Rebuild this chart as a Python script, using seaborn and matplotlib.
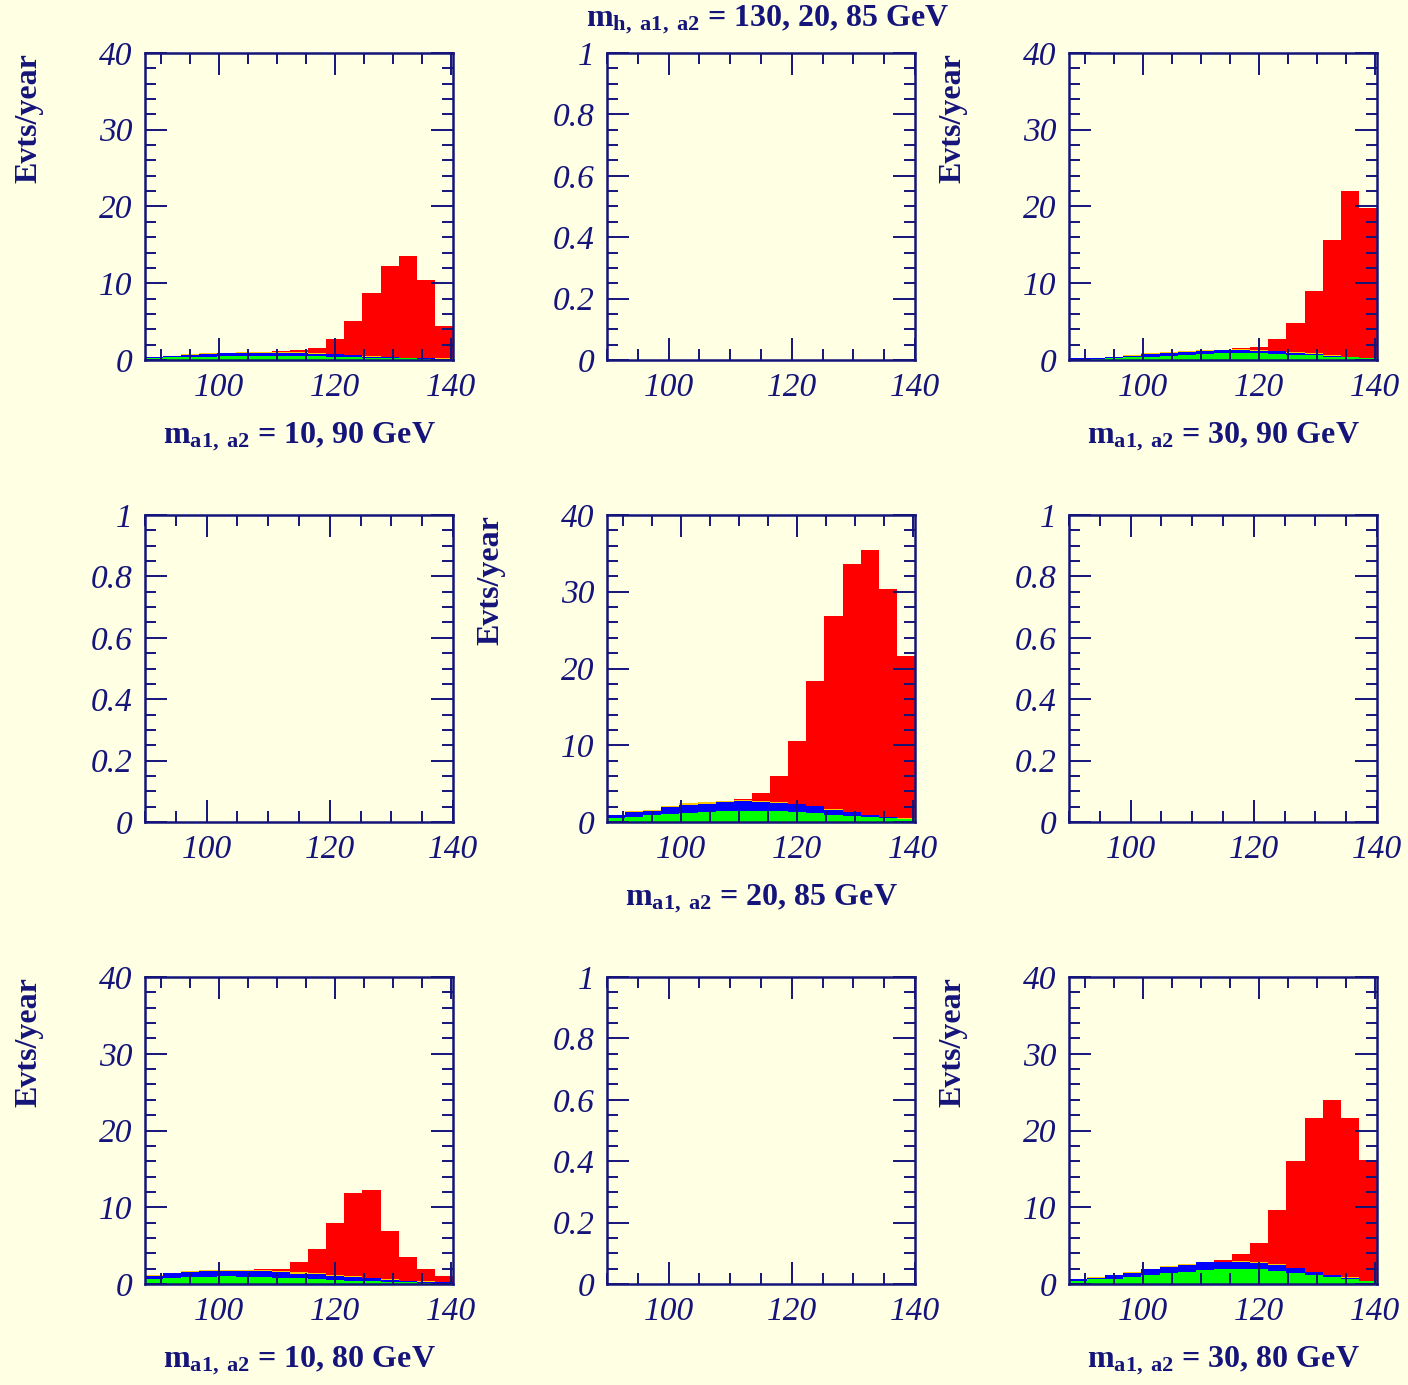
import numpy as np
import pandas as pd
import matplotlib
matplotlib.use("Agg")
import matplotlib.pyplot as plt
from matplotlib.ticker import MultipleLocator
import seaborn as sns

# ---------------- data ----------------
bin_lo, bin_hi, n_bins = 87.3, 140.3, 17

# m_a1,a2 = 10, 90 GeV
green_10_90 = [0.30, 0.35, 0.40, 0.45, 0.50, 0.50, 0.55, 0.55, 0.55, 0.50, 0.45, 0.40, 0.30, 0.25, 0.20, 0.15, 0.12]
blue_10_90 = [0.08, 0.13, 0.25, 0.30, 0.35, 0.38, 0.38, 0.38, 0.35, 0.30, 0.28, 0.20, 0.15, 0.10, 0.07, 0.07, 0.05]
yellow_10_90 = [0.05, 0.08, 0.09, 0.12, 0.11, 0.12, 0.12, 0.12, 0.10, 0.10, 0.07, 0.05, 0.05, 0.05, 0.03, 0.03, 0.03]
red_10_90 = [0.0, 0.0, 0.0, 0.0, 0.0, 0.0, 0.04, 0.08, 0.26, 0.70, 1.90, 4.45, 8.20, 11.9, 13.2, 10.15, 4.20]

# m_a1,a2 = 30, 90 GeV
green_30_90 = [0.10, 0.13, 0.20, 0.35, 0.45, 0.55, 0.65, 0.75, 0.85, 0.85, 0.85, 0.75, 0.70, 0.60, 0.45, 0.35, 0.20]
blue_30_90 = [0.10, 0.14, 0.18, 0.22, 0.35, 0.38, 0.40, 0.43, 0.42, 0.47, 0.38, 0.39, 0.25, 0.20, 0.10, 0.06, 0.07]
yellow_30_90 = [0.02, 0.03, 0.05, 0.05, 0.07, 0.07, 0.08, 0.08, 0.08, 0.08, 0.07, 0.06, 0.05, 0.05, 0.05, 0.04, 0.03]
red_30_90 = [0.0, 0.0, 0.0, 0.0, 0.0, 0.0, 0.0, 0.0, 0.0, 0.12, 0.44, 1.50, 3.80, 8.11, 15.0, 21.55, 19.5]

# m_a1,a2 = 20, 85 GeV
green_20_85 = [0.52, 0.70, 0.91, 1.09, 1.22, 1.35, 1.48, 1.48, 1.48, 1.43, 1.30, 1.13, 0.96, 0.83, 0.65, 0.52, 0.35]
blue_20_85 = [0.40, 0.59, 0.57, 0.83, 1.06, 1.06, 1.15, 1.25, 1.16, 1.03, 1.02, 0.90, 0.63, 0.42, 0.27, 0.15, 0.10]
yellow_20_85 = [0.04, 0.10, 0.12, 0.12, 0.15, 0.15, 0.15, 0.12, 0.10, 0.10, 0.08, 0.07, 0.06, 0.05, 0.04, 0.03, 0.03]
red_20_85 = [0.0, 0.0, 0.0, 0.0, 0.0, 0.0, 0.0, 0.11, 1.00, 3.44, 8.10, 16.25, 25.25, 32.3, 34.44, 29.7, 21.12]

# m_a1,a2 = 10, 80 GeV
green_10_80 = [0.61, 0.74, 0.87, 0.96, 1.00, 0.96, 0.87, 0.83, 0.74, 0.65, 0.52, 0.43, 0.35, 0.26, 0.22, 0.17, 0.13]
blue_10_80 = [0.47, 0.64, 0.63, 0.72, 0.71, 0.77, 0.83, 0.77, 0.61, 0.63, 0.58, 0.47, 0.37, 0.28, 0.19, 0.15, 0.14]
yellow_10_80 = [0.05, 0.10, 0.20, 0.15, 0.12, 0.10, 0.10, 0.10, 0.15, 0.12, 0.10, 0.10, 0.08, 0.06, 0.04, 0.03, 0.03]
red_10_80 = [0.0, 0.0, 0.0, 0.0, 0.0, 0.0, 0.11, 0.30, 1.33, 3.20, 6.70, 10.8, 11.4, 6.30, 3.05, 1.65, 0.74]

# m_a1,a2 = 30, 80 GeV
green_30_80 = [0.35, 0.61, 0.65, 0.96, 1.13, 1.39, 1.60, 1.83, 2.00, 2.00, 1.96, 1.74, 1.48, 1.17, 0.87, 0.61, 0.35]
blue_30_80 = [0.24, 0.23, 0.48, 0.51, 0.77, 0.84, 0.92, 0.99, 0.84, 0.88, 0.83, 0.79, 0.56, 0.38, 0.26, 0.23, 0.06]
yellow_30_80 = [0.02, 0.03, 0.04, 0.05, 0.06, 0.07, 0.08, 0.08, 0.06, 0.08, 0.08, 0.07, 0.06, 0.05, 0.04, 0.03, 0.02]
red_30_80 = [0.0, 0.0, 0.0, 0.0, 0.0, 0.0, 0.0, 0.0, 0.24, 0.94, 2.53, 7.00, 13.9, 20.0, 22.83, 20.73, 15.77]

panel_labels = ["10, 90", "30, 90", "20, 85", "10, 80", "30, 80"]
title_text = "130, 20, 85"
ylabel_text = "Evts/year"
xticks_major = [100, 120, 140]
yticks_filled = [0, 10, 20, 30, 40]
yticks_empty = [0, 0.2, 0.4, 0.6, 0.8, 1]
yticklabels_empty = ["0", "0.2", "0.4", "0.6", "0.8", "1"]

# ---------------- style ----------------
sns.set_theme(style="ticks")
plt.rcParams["font.family"] = ["Liberation Serif", "DejaVu Serif"]
plt.rcParams["mathtext.fontset"] = "custom"
plt.rcParams["mathtext.rm"] = "Liberation Serif"
plt.rcParams["mathtext.bf"] = "Liberation Serif:bold"
plt.rcParams["mathtext.it"] = "Liberation Serif:italic"

NAVY = "#14147a"
BG = "#FFFFE4"
COLORS = {"red": "#FF0000", "yellow": "#FFC800", "blue": "#0000FF", "green": "#00FF00"}
FS_TICK = 24
FS_LAB = 23

fig = plt.figure(figsize=(14.08, 13.85), dpi=100, facecolor=BG)
W, H = 1408.0, 1385.0
col_left = [145, 607, 1069]
row_top = [53, 515, 977]
AW, AH = 308, 307

edges = list(np.linspace(bin_lo, bin_hi, n_bins + 1))
centers = 0.5 * (np.array(edges[:-1]) + np.array(edges[1:]))

filled = {
    (0, 0): (green_10_90, blue_10_90, yellow_10_90, red_10_90, panel_labels[0]),
    (0, 2): (green_30_90, blue_30_90, yellow_30_90, red_30_90, panel_labels[1]),
    (1, 1): (green_20_85, blue_20_85, yellow_20_85, red_20_85, panel_labels[2]),
    (2, 0): (green_10_80, blue_10_80, yellow_10_80, red_10_80, panel_labels[3]),
    (2, 2): (green_30_80, blue_30_80, yellow_30_80, red_30_80, panel_labels[4]),
}


def style_axes(ax):
    ax.set_facecolor(BG)
    for s in ax.spines.values():
        s.set_color(NAVY)
        s.set_linewidth(1.8)
        s.set_visible(True)
        s.set_zorder(5)
    ax.tick_params(which="both", direction="in", top=True, right=True,
                   color=NAVY, labelcolor=NAVY, width=1.4, labelsize=FS_TICK, pad=9)
    ax.tick_params(which="major", length=16)
    ax.tick_params(which="minor", length=8)
    ax.set_xlabel("")
    ax.set_ylabel("")
    ax.set_axisbelow(False)


for r in range(3):
    for c in range(3):
        left = col_left[c] / W
        bottom = 1 - (row_top[r] + AH) / H
        ax = fig.add_axes([left, bottom, AW / W, AH / H])
        if (r, c) in filled:
            g, b, y, rd, lab = filled[(r, c)]
            df = pd.DataFrame({
                "x": np.concatenate([centers] * 4),
                "w": np.concatenate([rd, y, b, g]),
                "comp": ["red"] * n_bins + ["yellow"] * n_bins + ["blue"] * n_bins + ["green"] * n_bins,
            })
            sns.histplot(data=df, x="x", weights="w", hue="comp",
                         hue_order=["red", "yellow", "blue", "green"],
                         palette=COLORS, multiple="stack", bins=edges,
                         element="bars", alpha=1, linewidth=0, legend=False, ax=ax)
            ax.set_xlim(bin_lo, bin_hi)
            ax.set_ylim(0, 40)
            ax.set_yticks(yticks_filled, labels=[str(v) for v in yticks_filled], fontstyle="italic")
            ax.yaxis.set_minor_locator(MultipleLocator(2))
            style_axes(ax)
            ax.set_ylabel(ylabel_text, color=NAVY, fontsize=FS_LAB, fontweight="bold", loc="top")
            ax.yaxis.set_label_coords(-102 / AW, 1.0)
            ax.text(0.5, -77 / AH,
                    r"$\mathbf{m}_{\mathbf{a1,\ a2}}$" + " = " + lab + " GeV",
                    transform=ax.transAxes, ha="center", va="center",
                    color=NAVY, fontsize=FS_LAB, fontweight="bold")
        else:
            ax.set_xlim(90, 140)
            ax.set_ylim(0, 1)
            ax.set_yticks(yticks_empty, labels=yticklabels_empty, fontstyle="italic")
            ax.yaxis.set_minor_locator(MultipleLocator(0.05))
            style_axes(ax)
        ax.set_xticks(xticks_major, labels=[str(v) for v in xticks_major], fontstyle="italic")
        ax.xaxis.set_minor_locator(MultipleLocator(5))

fig.text(768 / W, 1 - 20 / H,
         r"$\mathbf{m}_{\mathbf{h,\ a1,\ a2}}$" + " = " + title_text + " GeV",
         ha="center", va="center", color=NAVY, fontsize=FS_LAB, fontweight="bold")

fig.savefig("out.png", dpi=100, facecolor=BG)
